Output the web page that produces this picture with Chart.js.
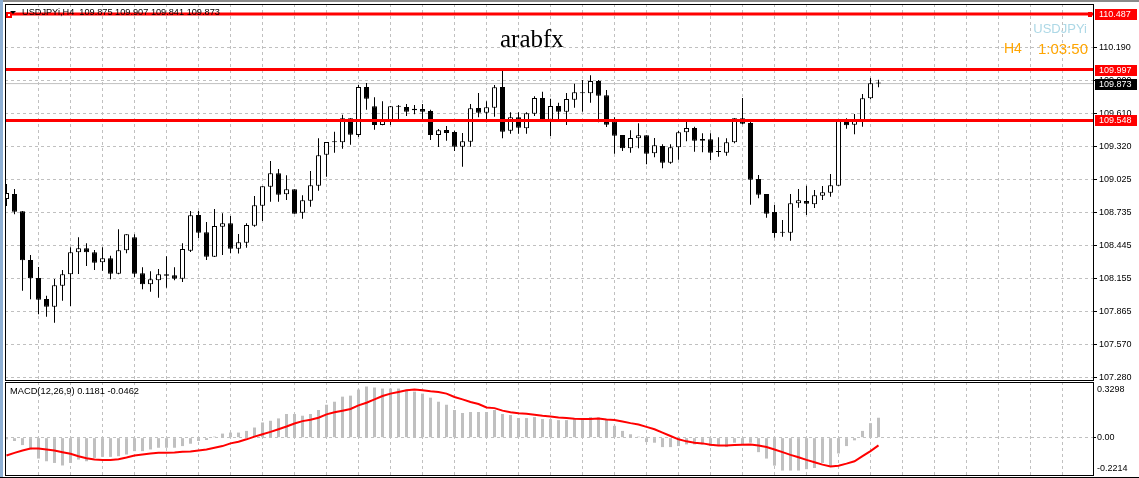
<!DOCTYPE html>
<html><head><meta charset="utf-8">
<script src="https://cdn.jsdelivr.net/npm/chart.js@4.4.0/dist/chart.umd.min.js"></script>
<style>
html,body{margin:0;padding:0;background:#fff;}
body{width:1139px;height:478px;position:relative;overflow:hidden;font-family:"Liberation Sans",Arial,sans-serif;}
canvas{position:absolute;left:0;}
#main{top:0;}
#macd{top:381px;}
.t{position:absolute;white-space:pre;line-height:1;z-index:5;}
</style></head><body>
<div style="position:absolute;left:0;top:0;width:1139px;height:2px;background:#8a8a8a;z-index:4"></div>
<div style="position:absolute;left:0;top:0;width:3px;height:478px;background:#8fb0d4;z-index:4"></div>
<div style="position:absolute;left:0;top:477px;width:1139px;height:1px;background:#000;z-index:4"></div>
<canvas id="main" width="1139" height="381"></canvas>
<canvas id="macd" width="1139" height="97"></canvas>
<div class="t" style="left:22px;top:8px;font-size:9.2px;color:#000">USDJPYi,H4  109.875 109.907 109.841 109.873</div>
<div class="t" style="left:500px;top:26px;font-size:25px;color:#000;font-family:'Liberation Serif','Times New Roman',serif">arabfx</div>
<div class="t" style="right:52px;top:22px;font-size:13px;color:#add8e6">USDJPYi</div>
<div class="t" style="left:1004px;top:41px;font-size:14px;color:#ffa500">H4</div>
<div class="t" style="right:51px;top:40.6px;font-size:15px;color:#ffa500">1:03:50</div>
<div class="t" style="left:10px;top:387px;font-size:9.3px;color:#000">MACD(12,26,9) 0.1181 -0.0462</div>
<script>
// ---- data (USDJPYi H4) ----
const open = [108.854,108.898,108.745,108.316,108.157,107.971,107.903,108.089,108.189,108.384,
108.419,108.384,108.295,108.331,108.195,108.401,108.516,108.198,108.101,108.137,
108.189,108.181,108.151,108.398,108.713,108.560,108.345,108.610,108.640,108.416,
108.468,108.619,108.795,108.963,109.081,108.896,108.940,108.733,108.839,108.972,
109.245,109.355,109.355,109.567,109.419,109.843,109.673,109.508,109.549,109.673,
109.666,109.651,109.649,109.631,109.419,109.463,109.446,109.316,109.360,109.658,
109.616,109.660,109.843,109.457,109.576,109.478,109.607,109.746,109.554,109.675,
109.625,109.731,109.787,109.787,109.896,109.770,109.540,109.419,109.302,109.390,
109.417,109.258,109.322,109.175,109.311,109.443,109.481,109.384,109.381,109.269,
109.263,109.355,109.567,109.525,109.031,108.898,108.740,108.557,108.557,108.816,
108.837,108.807,108.883,108.910,108.972,109.558,109.510,109.537,109.743,109.875];
const high = [108.987,108.943,108.748,108.360,108.254,108.001,108.148,108.227,108.428,108.516,
108.463,108.404,108.428,108.354,108.587,108.543,108.543,108.251,108.216,108.236,
108.348,108.251,108.463,108.748,108.748,108.651,108.766,108.728,108.704,108.545,
108.640,108.881,108.966,109.190,109.119,109.063,108.940,108.887,109.101,109.390,
109.357,109.448,109.598,109.567,109.861,109.878,109.752,109.717,109.675,109.684,
109.693,109.684,109.693,109.643,109.472,109.499,109.457,109.437,109.693,109.790,
109.717,109.861,109.990,109.620,109.620,109.620,109.761,109.801,109.740,109.704,
109.790,109.872,109.905,109.946,109.905,109.817,109.576,109.419,109.461,109.522,
109.417,109.393,109.337,109.337,109.455,109.540,109.493,109.434,109.434,109.399,
109.390,109.567,109.746,109.552,109.066,108.898,108.801,108.669,108.898,108.943,
108.972,108.934,108.969,109.075,109.558,109.567,109.605,109.781,109.922,109.907];
const low = [108.792,108.719,108.045,107.969,107.836,107.815,107.762,107.956,107.910,108.192,
108.263,108.227,108.221,108.145,108.189,108.375,108.163,108.057,108.036,107.983,
108.071,108.137,108.122,108.386,108.510,108.316,108.343,108.360,108.375,108.373,
108.424,108.610,108.660,108.830,108.830,108.845,108.724,108.680,108.786,108.928,
109.051,109.263,109.298,109.334,109.402,109.643,109.466,109.505,109.508,109.549,
109.587,109.602,109.543,109.375,109.313,109.369,109.278,109.139,109.316,109.576,
109.531,109.581,109.390,109.431,109.431,109.431,109.587,109.537,109.410,109.537,
109.508,109.660,109.625,109.704,109.531,109.490,109.254,109.278,109.263,109.302,
109.161,109.222,109.125,109.166,109.201,109.364,109.272,109.267,109.199,109.228,
109.236,109.346,109.514,108.804,108.860,108.689,108.513,108.521,108.486,108.777,
108.713,108.775,108.845,108.875,108.972,109.475,109.425,109.493,109.734,109.841];
const close = [108.907,108.742,108.313,108.154,107.965,107.903,108.092,108.189,108.384,108.419,
108.384,108.292,108.331,108.195,108.401,108.543,108.195,108.101,108.145,108.189,
108.177,108.151,108.413,108.710,108.557,108.345,108.616,108.640,108.416,108.472,
108.625,108.799,108.966,109.081,108.892,108.940,108.724,108.843,108.975,109.240,
109.357,109.355,109.567,109.422,109.843,109.740,109.508,109.549,109.673,109.669,
109.625,109.637,109.625,109.419,109.461,109.437,109.316,109.364,109.655,109.616,
109.664,109.840,109.448,109.576,109.484,109.611,109.746,109.552,109.675,109.625,
109.737,109.796,109.787,109.896,109.766,109.510,109.413,109.302,109.393,109.417,
109.254,109.328,109.175,109.311,109.443,109.481,109.369,109.369,109.263,109.269,
109.355,109.567,109.519,109.025,108.892,108.724,108.554,108.557,108.816,108.843,
108.813,108.887,108.913,108.975,109.558,109.505,109.543,109.743,109.876,109.873];
const macdMain = [-0.010,-0.020,-0.044,-0.070,-0.124,-0.140,-0.150,-0.165,-0.150,-0.130,
-0.140,-0.120,-0.114,-0.114,-0.110,-0.100,-0.080,-0.080,-0.070,-0.060,
-0.060,-0.060,-0.050,-0.036,-0.020,-0.014,0.006,0.024,0.030,0.030,
0.040,0.060,0.090,0.100,0.114,0.140,0.140,0.130,0.140,0.164,
0.195,0.213,0.243,0.249,0.285,0.303,0.297,0.291,0.291,0.291,
0.285,0.273,0.261,0.237,0.213,0.195,0.164,0.146,0.152,0.152,
0.152,0.164,0.140,0.134,0.116,0.116,0.122,0.110,0.110,0.104,
0.104,0.110,0.110,0.122,0.120,0.110,0.070,0.040,0.020,0.006,
-0.026,-0.030,-0.056,-0.056,-0.050,-0.040,-0.040,-0.040,-0.050,-0.050,
-0.056,-0.030,-0.040,-0.030,-0.086,-0.124,-0.166,-0.195,-0.195,-0.195,
-0.187,-0.180,-0.150,-0.170,-0.094,-0.050,-0.016,0.040,0.086,0.118];
const macdSignal = [-0.106,-0.090,-0.076,-0.064,-0.064,-0.070,-0.076,-0.086,-0.096,-0.110,
-0.122,-0.130,-0.132,-0.132,-0.128,-0.118,-0.106,-0.100,-0.094,-0.090,
-0.090,-0.088,-0.084,-0.082,-0.076,-0.070,-0.060,-0.050,-0.034,-0.024,
-0.010,0.006,0.020,0.034,0.050,0.066,0.084,0.098,0.106,0.118,
0.138,0.150,0.160,0.170,0.191,0.207,0.227,0.247,0.261,0.271,
0.281,0.285,0.281,0.275,0.271,0.261,0.241,0.227,0.211,0.199,
0.179,0.175,0.160,0.150,0.144,0.142,0.136,0.130,0.126,0.120,
0.116,0.112,0.110,0.110,0.114,0.108,0.104,0.096,0.086,0.078,
0.064,0.050,0.030,0.010,-0.010,-0.022,-0.030,-0.034,-0.042,-0.046,
-0.046,-0.044,-0.042,-0.040,-0.046,-0.056,-0.070,-0.086,-0.102,-0.116,
-0.132,-0.146,-0.160,-0.171,-0.166,-0.154,-0.140,-0.110,-0.080,-0.046];
const levels = [110.487, 109.997, 109.548];
const bid = close[close.length - 1];
const priceTicks = [107.280,107.570,107.865,108.155,108.445,108.735,109.025,109.320,109.610,109.900,110.190];
const priceMin = 107.256, priceMax = 110.576;
const macdMax = 0.3298, macdMin = -0.2214;
const macdTickText = ['0.3298','0.00','-0.2214'];

// ---- layout ----
const xMin = -0.1875, xMax = 135.8125;
const gridIdx = []; for (let k = 4; k <= 132; k += 4) gridIdx.push(k);
const FONT = {family:'"Liberation Sans", Arial, sans-serif', size:9};
const GRID = '#c0c0c0';

function xAxis(){
  return {
    type:'linear', min:xMin, max:xMax, offset:false,
    ticks:{display:false},
    grid:{color:GRID, drawTicks:false, offset:false},
    border:{display:false, dash:[3,3]},
    afterBuildTicks:s=>{ s.ticks = gridIdx.map(v=>({value:v})); },
    afterFit:s=>{ s.height = 0; s.paddingLeft = 0; s.paddingRight = 0; }
  };
}

const bodies = open.map((o,i)=>({x:i, y:[o, close[i]]}));
const wicks = low.map((l,i)=>({x:i, y:[l, high[i]]}));
const bodyColors = open.map((o,i)=> close[i] > o ? '#ffffff' : '#000000');

const lineDs = (v, color, w, order) => ({
  type:'line', data:[{x:xMin,y:v},{x:xMax,y:v}], borderColor:color, borderWidth:w,
  pointRadius:0, order:order, tension:0
});

const mainDeco = {
  id:'mainDeco',
  afterDraw(chart){
    const {ctx, chartArea:a, scales:{y}} = chart;
    ctx.save();
    ctx.strokeStyle = '#000'; ctx.lineWidth = 1;
    ctx.strokeRect(a.left+0.5, a.top+0.5, a.right-a.left, a.bottom-a.top);
    ctx.font = '9px "Liberation Sans", Arial, sans-serif';
    ctx.textBaseline = 'middle'; ctx.textAlign = 'left';
    levels.forEach(v=>{
      const py = Math.round(y.getPixelForValue(v));
      ctx.fillStyle = '#ff0000'; ctx.fillRect(a.right+2, py-5, 42, 11);
      ctx.fillStyle = '#ffffff'; ctx.fillText(v.toFixed(3), a.right+6, py+1);
    });
    const bp = Math.round(y.getPixelForValue(bid));
    ctx.fillStyle = '#000'; ctx.fillRect(a.right+2, bp-5, 42, 11);
    ctx.fillStyle = '#fff'; ctx.fillText(bid.toFixed(3), a.right+6, bp+1);
    const p0 = Math.round(y.getPixelForValue(levels[0]));
    ctx.fillStyle = '#ff0000';
    ctx.fillRect(a.right-5, p0-2, 4, 5);
    ctx.fillRect(a.left+1, p0-2, 6, 6);
    ctx.fillStyle = '#fff'; ctx.fillRect(a.left+3, p0, 2, 2);
    ctx.fillStyle = '#000';
    ctx.beginPath(); ctx.moveTo(a.left+5, p0-3); ctx.lineTo(a.left+11, p0-3); ctx.lineTo(a.left+8, p0); ctx.closePath(); ctx.fill();
    ctx.restore();
  }
};

new Chart(document.getElementById('main'), {
  type:'bar',
  data:{datasets:[
    lineDs(levels[0], '#ff0000', 3, 0),
    lineDs(levels[1], '#ff0000', 3, 0),
    lineDs(levels[2], '#ff0000', 3, 0),
    {type:'bar', data:bodies, backgroundColor:bodyColors, borderColor:'#000', borderWidth:1,
     barThickness:5, minBarLength:1, borderSkipped:false, inflateAmount:0, grouped:false, order:1},
    {type:'bar', data:wicks, backgroundColor:'#000', borderWidth:0,
     barThickness:1, inflateAmount:0, grouped:false, order:2},
    lineDs(bid, '#c0c0c0', 1, 3)
  ]},
  options:{
    responsive:false, animation:false, events:[],
    layout:{padding:{left:5, top:4, right:0, bottom:1}},
    plugins:{legend:{display:false}, tooltip:{enabled:false}, title:{display:false}},
    scales:{
      x: xAxis(),
      y:{
        type:'linear', position:'right', min:priceMin, max:priceMax,
        ticks:{font:FONT, color:'#000', padding:2, autoSkip:false, callback:v=>Number(v).toFixed(3)},
        grid:{color:GRID, tickColor:'#000', tickLength:4},
        border:{display:false, dash:[3,3]},
        afterBuildTicks:s=>{ s.ticks = priceTicks.map(v=>({value:v})); },
        afterFit:s=>{ s.width = 46; s.paddingTop = 0; s.paddingBottom = 0; }
      }
    }
  },
  plugins:[mainDeco]
});

const frameDeco = {
  id:'frameDeco',
  afterDraw(chart){
    const {ctx, chartArea:a} = chart;
    ctx.save(); ctx.strokeStyle = '#000'; ctx.lineWidth = 1;
    ctx.strokeRect(a.left+0.5, a.top+0.5, a.right-a.left, a.bottom-a.top);
    ctx.restore();
  }
};

// label anchor values for the panel's max / zero / min captions
const macdPxPerUnit = 93 / (macdMax - macdMin);
const macdTickVals = [macdMax - 7.5/macdPxPerUnit, 0, macdMin + 6.7/macdPxPerUnit];

new Chart(document.getElementById('macd'), {
  type:'bar',
  data:{datasets:[
    {type:'line', data:macdSignal.map((v,i)=>({x:i,y:v})), borderColor:'#ff0000', borderWidth:2,
     pointRadius:0, tension:0, order:0},
    {type:'bar', data:macdMain.map((v,i)=>({x:i,y:v})), backgroundColor:'#c0c0c0', borderWidth:0,
     barThickness:3, inflateAmount:0, grouped:false, order:1}
  ]},
  options:{
    responsive:false, animation:false, events:[],
    layout:{padding:{left:5, top:1, right:0, bottom:3}},
    plugins:{legend:{display:false}, tooltip:{enabled:false}},
    scales:{
      x: xAxis(),
      y:{
        type:'linear', position:'right', min:macdMin, max:macdMax,
        ticks:{font:FONT, color:'#000', padding:1, autoSkip:false,
               callback:(v,i)=>macdTickText[i]},
        grid:{color:c=>(c.tick && c.tick.value===0) ? GRID : 'rgba(0,0,0,0)',
              tickColor:c=>(c.tick && c.tick.value===0) ? '#000' : 'rgba(0,0,0,0)', tickLength:3},
        border:{display:false, dash:[3,3]},
        afterBuildTicks:s=>{ s.ticks = macdTickVals.map(v=>({value:v})); },
        afterFit:s=>{ s.width = 46; s.paddingTop = 0; s.paddingBottom = 0; }
      }
    }
  },
  plugins:[frameDeco]
});
</script>
</body></html>
